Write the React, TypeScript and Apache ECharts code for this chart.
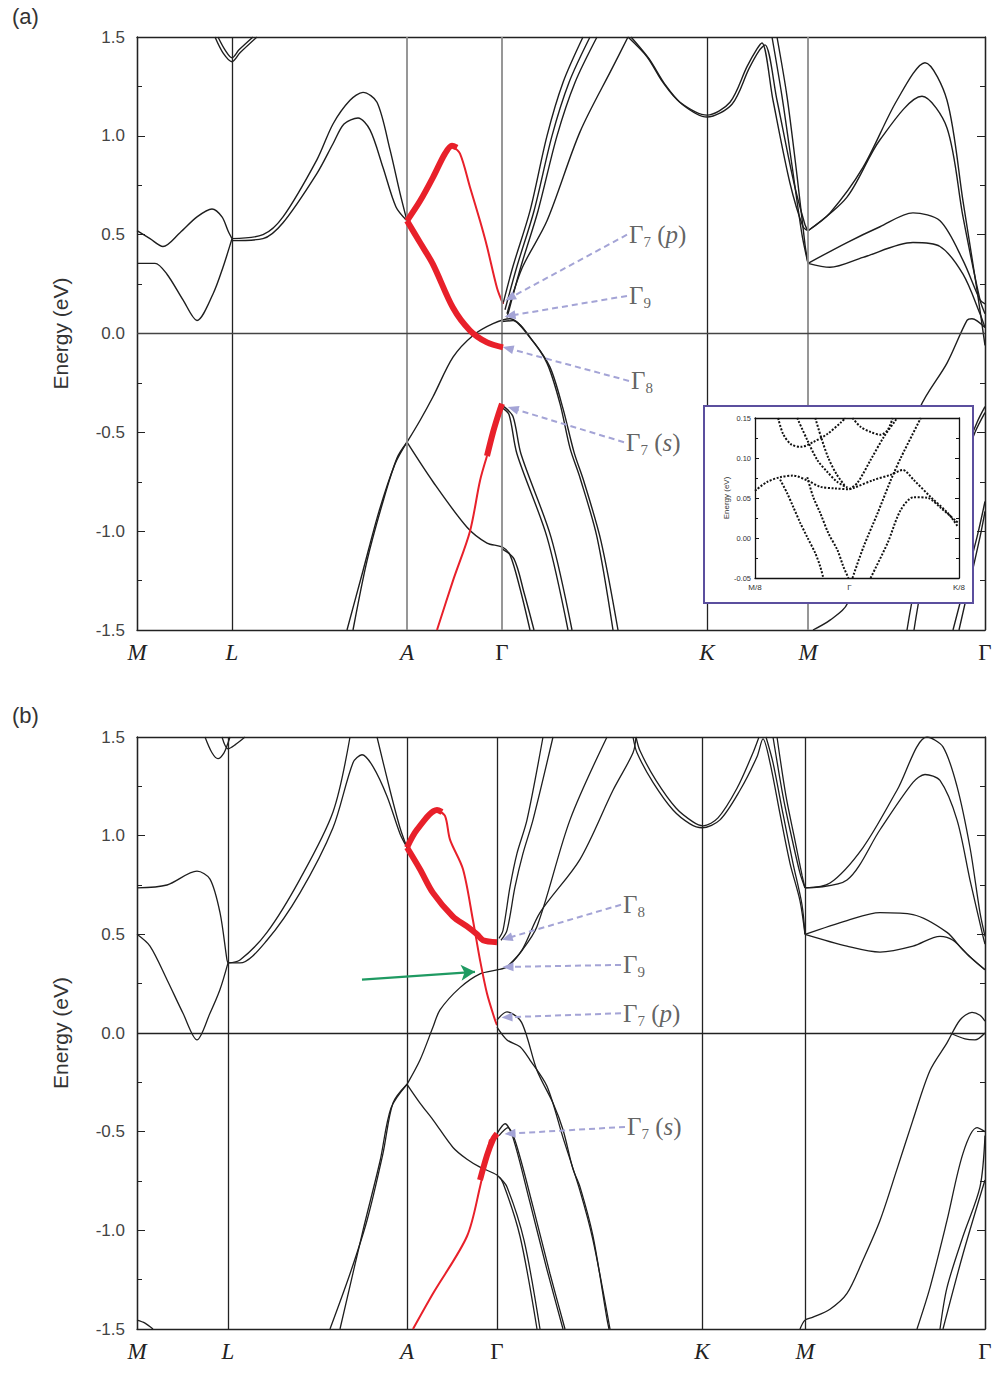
import { useEffect, useRef } from "react";
import * as echarts from "echarts";

type Pt = [number, number];

// ---------- k-path ----------
const kLabels = ["M", "L", "A", "Γ", "K", "M", "Γ"];
const kPointsA = [0, 95, 270, 365, 570, 671, 848];
const kPointsB = [0, 91, 270, 360, 565, 668, 848];
const kLineGrayA = [false, false, true, true, false, true, false];

// ---------- panel (a) bands ----------
const bandsA: Pt[][] = [
  // M - L
  [[0, 0.52], [13, 0.48], [26, 0.44], [43, 0.51], [60, 0.59], [75, 0.63], [85, 0.59], [91, 0.52], [95, 0.48]],
  [[0, 0.355], [18, 0.355], [30, 0.3], [46, 0.17], [60, 0.066], [76, 0.2], [86, 0.335], [95, 0.48]],
  [[78, 1.5], [86, 1.42], [95, 1.375], [103, 1.42], [120, 1.5]],
  [[81, 1.5], [88, 1.435], [95, 1.395], [102, 1.435], [116, 1.5]],
  // L - A
  [[95, 0.48], [126, 0.5], [146, 0.59], [180, 0.88], [196, 1.06], [213, 1.18], [226, 1.22], [240, 1.17], [253, 0.93], [263, 0.71], [270, 0.57]],
  [[95, 0.47], [126, 0.48], [146, 0.56], [180, 0.81], [196, 0.96], [207, 1.06], [221, 1.09], [233, 1.03], [246, 0.84], [259, 0.64], [270, 0.57]],
  [[270, -0.55], [260, -0.63], [246, -0.85], [230, -1.15], [216, -1.5]],
  [[270, -0.55], [258, -0.66], [242, -0.9], [226, -1.2], [210, -1.5]],
  // A - Γ - K valence
  [[270, -0.55], [283, -0.44], [296, -0.32], [316, -0.12], [336, -0.01], [356, 0.05], [373, 0.075], [393, -0.02], [410, -0.15], [423, -0.355], [433, -0.58], [443, -0.73], [460, -1.03], [476, -1.5]],
  [[365, 0.06], [376, 0.065], [396, -0.04], [413, -0.17], [426, -0.38], [437, -0.6], [447, -0.75], [464, -1.05], [481, -1.5]],
  [[270, -0.55], [296, -0.75], [330, -0.98], [350, -1.06], [365, -1.08], [373, -1.12], [383, -1.29], [393, -1.5]],
  [[365, -1.09], [377, -1.14], [387, -1.31], [397, -1.5]],
  [[365, -0.375], [372, -0.41], [380, -0.61], [410, -1.03], [431, -1.5]],
  [[367, -0.37], [376, -0.42], [384, -0.61], [414, -1.03], [435, -1.5]],
  // Γ - K conduction
  [[366, 0.15], [376, 0.34], [393, 0.62], [410, 1.0], [426, 1.27], [446, 1.5]],
  [[368, 0.12], [380, 0.34], [397, 0.62], [415, 1.0], [432, 1.27], [453, 1.5]],
  [[370, 0.08], [384, 0.34], [401, 0.62], [420, 1.0], [438, 1.27], [460, 1.5]],
  [[370, 0.1], [385, 0.33], [410, 0.57], [443, 1.02], [476, 1.35], [491, 1.5]],
  // K
  [[491, 1.5], [510, 1.4], [526, 1.27], [543, 1.17], [570, 1.105], [593, 1.17], [610, 1.35], [620, 1.44], [625, 1.47], [636, 1.18], [653, 0.76], [666, 0.54], [671, 0.52]],
  [[494, 1.5], [512, 1.39], [528, 1.26], [545, 1.16], [570, 1.095], [595, 1.16], [612, 1.34], [622, 1.43], [628, 1.46], [640, 1.18], [657, 0.76], [668, 0.55], [671, 0.52]],
  [[635, 1.5], [645, 1.2], [655, 0.85], [665, 0.5], [671, 0.355]],
  [[640, 1.5], [650, 1.2], [660, 0.8], [668, 0.45], [671, 0.355]],
  // M - Γ
  [[671, 0.52], [693, 0.61], [726, 0.84], [760, 1.18], [788, 1.37], [810, 1.18], [826, 0.67], [840, 0.22], [848, -0.06]],
  [[671, 0.52], [710, 0.69], [743, 0.98], [785, 1.2], [810, 1.04], [826, 0.59], [843, 0.17], [848, 0.1]],
  [[671, 0.355], [710, 0.46], [743, 0.54], [776, 0.61], [803, 0.57], [826, 0.37], [843, 0.17], [848, 0.15]],
  [[671, 0.355], [693, 0.335], [726, 0.385], [776, 0.46], [803, 0.44], [826, 0.3], [843, 0.1], [848, 0.03]],
  [[676, -1.5], [693, -1.45], [710, -1.37], [783, -0.375], [810, -0.15], [830, 0.066], [835, 0.075], [848, 0.03]],
  [[848, -0.37], [840, -0.45], [786, -1.12], [770, -1.5]],
  [[848, -0.4], [838, -0.5], [792, -1.12], [777, -1.5]],
  [[848, -0.85], [840, -1.03], [816, -1.5]],
  [[848, -0.9], [843, -1.03], [822, -1.5]],
];
const redThickA: Pt[][] = [
  [[270, 0.57], [283, 0.67], [296, 0.79], [308, 0.91], [315, 0.95], [320, 0.94]],
  [[270, 0.57], [283, 0.46], [296, 0.35], [316, 0.13], [333, 0.015], [350, -0.045], [366, -0.07]],
  [[350, -0.62], [356, -0.5], [362, -0.4], [365, -0.355]],
];
const redThinA: Pt[][] = [
  [[315, 0.95], [323, 0.91], [333, 0.74], [343, 0.57], [350, 0.44], [360, 0.23], [366, 0.15]],
  [[300, -1.5], [316, -1.25], [333, -1.0], [343, -0.745], [350, -0.62]],
];

// ---------- panel (b) bands ----------
const bandsB: Pt[][] = [
  // M - L
  [[0, 0.735], [30, 0.75], [60, 0.82], [73, 0.78], [83, 0.61], [90, 0.37], [91, 0.355]],
  [[0, 0.5], [13, 0.44], [30, 0.27], [46, 0.1], [60, -0.035], [73, 0.1], [83, 0.22], [91, 0.355]],
  [[68, 1.5], [75, 1.42], [81, 1.39], [87, 1.42], [91, 1.47], [93, 1.5]],
  [[85, 1.5], [91, 1.44], [98, 1.46], [108, 1.5]],
  [[0, -1.455], [8, -1.47], [16, -1.5]],
  // L - A
  [[91, 0.355], [103, 0.37], [130, 0.51], [163, 0.78], [196, 1.12], [213, 1.5]],
  [[240, 1.5], [253, 1.23], [263, 1.04], [270, 0.94]],
  [[91, 0.355], [103, 0.355], [130, 0.47], [163, 0.71], [196, 1.04], [216, 1.37], [225, 1.41], [236, 1.35], [250, 1.2], [263, 1.01], [270, 0.94]],
  [[270, -0.26], [256, -0.355], [246, -0.61], [230, -0.95], [213, -1.22], [193, -1.5]],
  [[270, -0.26], [254, -0.38], [243, -0.65], [226, -1.0], [203, -1.5]],
  // A - Γ - K
  [[270, -0.26], [283, -0.137], [296, 0.03], [303, 0.117], [323, 0.23], [343, 0.3], [360, 0.32], [370, 0.335], [383, 0.405], [400, 0.54], [433, 1.08], [470, 1.5]],
  [[370, 0.335], [385, 0.42], [403, 0.61], [443, 0.88], [476, 1.23], [496, 1.42], [499, 1.5]],
  [[362, 0.48], [366, 0.52], [373, 0.74], [380, 0.91], [390, 1.08], [406, 1.5]],
  [[364, 0.47], [370, 0.52], [378, 0.74], [386, 0.91], [396, 1.08], [416, 1.5]],
  [[270, -0.26], [283, -0.355], [296, -0.44], [316, -0.58], [330, -0.64], [343, -0.68], [360, -0.72], [366, -0.76], [383, -1.03], [400, -1.5]],
  [[362, -0.73], [370, -0.78], [387, -1.05], [403, -1.5]],
  [[360, -0.51], [368, -0.46], [376, -0.53], [393, -0.86], [410, -1.2], [426, -1.5]],
  [[362, -0.52], [371, -0.48], [379, -0.56], [396, -0.88], [413, -1.22], [428, -1.5]],
  [[360, 0.066], [370, 0.107], [383, 0.066], [390, -0.02], [400, -0.19], [416, -0.355], [426, -0.49], [436, -0.69], [443, -0.78], [456, -1.03], [470, -1.45], [472, -1.5]],
  [[360, 0.03], [370, -0.035], [383, -0.07], [393, -0.137], [410, -0.27], [426, -0.53], [443, -0.8], [456, -1.05], [473, -1.5]],
  // K
  [[496, 1.5], [500, 1.42], [516, 1.27], [536, 1.13], [553, 1.06], [565, 1.04], [583, 1.08], [603, 1.23], [620, 1.4], [626, 1.49], [633, 1.37], [643, 1.11], [653, 0.86], [663, 0.67], [668, 0.5]],
  [[499, 1.5], [503, 1.43], [519, 1.28], [539, 1.14], [556, 1.07], [566, 1.05], [581, 1.09], [600, 1.24], [616, 1.42], [622, 1.5]],
  [[629, 1.5], [636, 1.37], [646, 1.11], [656, 0.86], [665, 0.65], [668, 0.5]],
  [[636, 1.5], [646, 1.2], [653, 1.03], [663, 0.81], [668, 0.735]],
  [[640, 1.5], [649, 1.2], [657, 1.0], [665, 0.8], [668, 0.735]],
  // M - Γ
  [[668, 0.735], [693, 0.76], [726, 0.94], [760, 1.23], [790, 1.5], [806, 1.45], [820, 1.25], [833, 0.94], [843, 0.61], [848, 0.49]],
  [[668, 0.735], [710, 0.775], [743, 1.03], [776, 1.27], [788, 1.31], [803, 1.28], [820, 1.08], [833, 0.775], [846, 0.49], [848, 0.45]],
  [[668, 0.5], [710, 0.57], [743, 0.61], [776, 0.6], [810, 0.51], [826, 0.42], [848, 0.32]],
  [[668, 0.5], [710, 0.44], [743, 0.41], [776, 0.44], [803, 0.49], [816, 0.47], [833, 0.385], [848, 0.32]],
  [[663, -1.5], [668, -1.455], [676, -1.44], [693, -1.4], [710, -1.32], [726, -1.15], [743, -0.95], [760, -0.69], [776, -0.44], [793, -0.19], [810, -0.05], [823, 0.066], [835, 0.105], [843, 0.09], [848, 0.06]],
  [[813, 0.0], [828, -0.03], [838, -0.035], [848, 0.0]],
  [[848, -0.5], [840, -0.48], [826, -0.61], [810, -0.95], [793, -1.29], [780, -1.5]],
  [[848, -0.52], [843, -0.78], [826, -1.03], [810, -1.29], [803, -1.5]],
  [[848, -0.745], [826, -1.12], [806, -1.5]],
];
const redThickB: Pt[][] = [
  [[270, 0.94], [280, 1.03], [300, 1.13], [305, 1.12]],
  [[270, 0.94], [283, 0.83], [296, 0.71], [316, 0.59], [330, 0.54], [340, 0.5], [346, 0.47], [360, 0.46]],
  [[343, -0.745], [350, -0.62], [356, -0.54], [360, -0.51]],
];
const redThinB: Pt[][] = [
  [[300, 1.13], [308, 1.1], [313, 0.98], [326, 0.83], [336, 0.57], [343, 0.37], [350, 0.2], [358, 0.066], [360, 0.04]],
  [[276, -1.5], [296, -1.32], [330, -1.03], [343, -0.78], [350, -0.61], [353, -0.54]],
];

// ---------- annotations ----------
const annoNamesA = ["Γ7 (p)", "Γ9", "Γ8", "Γ7 (s)"];
const annoFromA: Pt[] = [[490, 0.5], [490, 0.19], [492, -0.24], [487, -0.55]];
const annoToA: Pt[] = [[373, 0.18], [373, 0.09], [371, -0.075], [376, -0.38]];
const annoNamesB = ["Γ8", "Γ9", "Γ7 (p)", "Γ7 (s)"];
const annoFromB: Pt[] = [[484, 0.65], [484, 0.345], [484, 0.1], [488, -0.476]];
const annoToB: Pt[] = [[370, 0.48], [371, 0.335], [370, 0.08], [373, -0.51]];
const greenArrowB: Pt[] = [[225, 0.27], [338, 0.31]];

// ---------- inset (zoom near Γ, eV) ----------
const insetKPoints = [-94, 0, 109];
const insetKLabels = ["M/8", "Γ", "K/8"];
const insetBands: Pt[][] = [
  [[-94, 0.059], [-82, 0.07], [-69, 0.076], [-56, 0.078], [-42, 0.072], [-29, 0.064], [-15, 0.062], [0, 0.061], [4, 0.0625], [24, 0.0725], [41, 0.079], [53, 0.085], [64, 0.0725], [81, 0.051], [98, 0.031], [108, 0.014]],
  [[21, -0.05], [38, -0.006], [51, 0.035], [64, 0.051], [78, 0.05], [91, 0.0375], [108, 0.019]],
  [[3, -0.05], [14, -0.011], [28, 0.031], [41, 0.072], [51, 0.1], [71, 0.15]],
  [[0, 0.061], [8, 0.069], [21, 0.0975], [34, 0.126], [46, 0.1475], [47, 0.15]],
  [[3, 0.15], [11, 0.139], [21, 0.1325], [31, 0.129], [38, 0.135], [43, 0.15]],
  [[-71, 0.15], [-66, 0.13], [-58, 0.117], [-48, 0.114], [-36, 0.12], [-22, 0.13], [-8, 0.145], [-4, 0.15]],
  [[-52, 0.15], [-42, 0.1225], [-32, 0.0975], [-22, 0.0825], [-12, 0.07], [-2, 0.063]],
  [[-34, 0.15], [-28, 0.125], [-21, 0.1], [-13, 0.08], [-5, 0.066]],
  [[-69, 0.073], [-62, 0.056], [-56, 0.039], [-49, 0.019], [-42, 0.001], [-34, -0.019], [-29, -0.036], [-26, -0.05]],
  [[-42, 0.076], [-36, 0.051], [-29, 0.031], [-21, 0.006], [-12, -0.015], [-6, -0.036], [-1, -0.05]],
];

// ---------- styling ----------
const SANS = "'Liberation Sans', Arial, sans-serif";
const SERIF = "'Liberation Serif', 'DejaVu Serif', serif";
const AXIS_COLOR = "#222";
const RED = "#e8202a";

const gammaRich = {
  g: { fontFamily: SERIF, fontSize: 25, color: "#3a3a3a", lineHeight: 30 },
  i: { fontFamily: SERIF, fontStyle: "italic", fontSize: 25, color: "#3a3a3a", lineHeight: 30 },
  s: { fontFamily: SERIF, fontSize: 15, color: "#3a3a3a", lineHeight: 14, verticalAlign: "bottom" },
};
const fmtGamma = (name: string) => {
  const m = name.match(/^Γ(\d+)(?:\s*\((\w)\))?$/);
  if (!m) return name;
  let s = `{g|Γ}{s|${m[1]}}`;
  if (m[2]) s += `{g| (}{i|${m[2]}}{g|)}`;
  return s;
};

const kRich = {
  it: { fontFamily: SERIF, fontStyle: "italic", fontSize: 23, color: "#222" },
  up: { fontFamily: SERIF, fontSize: 23, color: "#222" },
};

function buildOption() {
  const grids = [
    { left: 137, top: 37, width: 848, height: 593 },
    { left: 137, top: 737, width: 848, height: 592 },
    { left: 755, top: 418, width: 204, height: 160 },
  ];
  const axisLine = { show: true, onZero: false, lineStyle: { color: AXIS_COLOR, width: 1.3 } };

  const mainX = (gi: number, kp: number[]) => [
    {
      type: "value", gridIndex: gi, min: 0, max: 848, position: "bottom",
      axisLine, axisTick: { show: false }, splitLine: { show: false },
      axisLabel: {
        customValues: kp, margin: 11,
        formatter: (v: number) => {
          let idx = kp.indexOf(v);
          if (idx < 0) idx = kp.reduce((b, k, i) => (Math.abs(k - v) < Math.abs(kp[b] - v) ? i : b), 0);
          const t = kLabels[idx];
          return t === "Γ" ? `{up|Γ}` : `{it|${t}}`;
        },
        rich: kRich,
      },
    },
    {
      type: "value", gridIndex: gi, min: 0, max: 848, position: "top",
      axisLine, axisTick: { show: false }, splitLine: { show: false }, axisLabel: { show: false },
    },
  ];
  const mainY = (gi: number) => [
    {
      type: "value", gridIndex: gi, min: -1.5, max: 1.5, interval: 0.5, position: "left",
      name: "Energy (eV)", nameLocation: "middle", nameGap: 66, nameRotate: 90,
      nameTextStyle: { fontFamily: SANS, fontSize: 21, color: "#333" },
      axisLine, splitLine: { show: false },
      axisTick: { show: true, inside: true, length: 8, lineStyle: { color: AXIS_COLOR } },
      minorTick: { show: true, splitNumber: 2, length: 5, lineStyle: { color: AXIS_COLOR } },
      axisLabel: { fontFamily: SANS, fontSize: 17, color: "#444", margin: 12, formatter: (v: number) => v.toFixed(1) },
    },
    {
      type: "value", gridIndex: gi, min: -1.5, max: 1.5, interval: 0.5, position: "right",
      axisLine, splitLine: { show: false },
      axisTick: { show: true, inside: true, length: 8, lineStyle: { color: AXIS_COLOR } },
      minorTick: { show: true, splitNumber: 2, length: 5, lineStyle: { color: AXIS_COLOR } },
      axisLabel: { show: false },
    },
  ];

  const insetAxisLine = { show: true, onZero: false, lineStyle: { color: "#111", width: 1.3 } };
  const insetX = [
    {
      type: "value", gridIndex: 2, min: -94, max: 109, position: "bottom", z: 60,
      axisLine: insetAxisLine, axisTick: { show: false }, splitLine: { show: false },
      axisLabel: {
        customValues: insetKPoints, margin: 5, fontFamily: SANS, fontSize: 8, color: "#333",
        formatter: (v: number) => {
          const idx = insetKPoints.indexOf(v);
          return idx >= 0 ? insetKLabels[idx] : "";
        },
      },
    },
    {
      type: "value", gridIndex: 2, min: -94, max: 109, position: "top", z: 60,
      axisLine: insetAxisLine, axisTick: { show: false }, splitLine: { show: false }, axisLabel: { show: false },
    },
  ];
  const insetY = [
    {
      type: "value", gridIndex: 2, min: -0.05, max: 0.15, interval: 0.05, position: "left", z: 60,
      name: "Energy (eV)", nameLocation: "middle", nameGap: 25, nameRotate: 90,
      nameTextStyle: { fontFamily: SANS, fontSize: 8, color: "#333" },
      axisLine: insetAxisLine, splitLine: { show: false },
      axisTick: { show: true, inside: true, length: 4, lineStyle: { color: "#111" } },
      minorTick: { show: true, splitNumber: 2, length: 3, lineStyle: { color: "#111" } },
      axisLabel: { fontFamily: SANS, fontSize: 7.5, color: "#333", margin: 4, formatter: (v: number) => v.toFixed(2) },
    },
    {
      type: "value", gridIndex: 2, min: -0.05, max: 0.15, interval: 0.05, position: "right", z: 60,
      axisLine: insetAxisLine, splitLine: { show: false },
      axisTick: { show: true, inside: true, length: 4, lineStyle: { color: "#111" } },
      minorTick: { show: true, splitNumber: 2, length: 3, lineStyle: { color: "#111" } },
      axisLabel: { show: false },
    },
  ];

  const lines = (bands: Pt[][], xi: number, yi: number, lineStyle: any, z: number) =>
    bands.map((b) => ({
      type: "line", xAxisIndex: xi, yAxisIndex: yi, data: b, symbol: "none", showSymbol: false,
      smooth: 0.3, lineStyle, z, silent: true, animation: false,
    }));

  const frameLines = (xi: number, yi: number, kp: number[], gray: boolean[]) => ({
    type: "line", xAxisIndex: xi, yAxisIndex: yi, data: [], symbol: "none", silent: true, z: 1,
    markLine: {
      silent: true, symbol: ["none", "none"], animation: false, label: { show: false },
      data: [
        ...kp.map((k, i) => ({
          xAxis: k,
          lineStyle: gray[i] ? { color: "#8c8c8c", width: 1.8, type: "solid" } : { color: AXIS_COLOR, width: 1.3, type: "solid" },
        })),
        { yAxis: 0, lineStyle: { color: gray.some((g) => g) ? "#444" : AXIS_COLOR, width: 1.3, type: "solid" } },
      ],
    },
  });

  const arrows = (xi: number, yi: number, from: Pt[], to: Pt[]) => ({
    type: "line", xAxisIndex: xi, yAxisIndex: yi, data: [], symbol: "none", silent: true, z: 7,
    markLine: {
      silent: true, animation: false, symbol: ["none", "triangle"], symbolSize: [9, 11],
      label: { show: false },
      lineStyle: { type: [6, 4], color: "#a4a4d6", width: 2 },
      data: from.map((f, i) => [{ coord: f }, { coord: to[i] }]),
    },
  });

  const labels = (xi: number, yi: number, names: string[], from: Pt[]) => ({
    type: "scatter", xAxisIndex: xi, yAxisIndex: yi, symbolSize: 0, silent: true, z: 8,
    data: from.map((f, i) => ({ value: f, name: names[i] })),
    label: {
      show: true, position: "right", distance: 2,
      formatter: (p: any) => fmtGamma(p.name),
      rich: gammaRich,
    },
  });

  const blackA = { color: "#1e1e1e", width: 1.4 };
  const blackB = { color: "#1e1e1e", width: 1.3 };
  const thick = { color: RED, width: 6 };
  const thin = { color: RED, width: 2 };

  const series: any[] = [
    frameLines(0, 0, kPointsA, kLineGrayA),
    frameLines(2, 2, kPointsB, kPointsB.map(() => false)),
    ...lines(bandsA, 0, 0, blackA, 3),
    ...lines(redThinA, 0, 0, thin, 4),
    ...lines(redThickA, 0, 0, thick, 5),
    ...lines(bandsB, 2, 2, blackB, 3),
    ...lines(redThinB, 2, 2, thin, 4),
    ...lines(redThickB, 2, 2, thick, 5),
    arrows(0, 0, annoFromA, annoToA),
    arrows(2, 2, annoFromB, annoToB),
    labels(0, 0, annoNamesA, annoFromA),
    labels(2, 2, annoNamesB, annoFromB),
    {
      type: "line", xAxisIndex: 2, yAxisIndex: 2, data: [], symbol: "none", silent: true, z: 7,
      markLine: {
        silent: true, animation: false, symbol: ["none", "arrow"], symbolSize: [12, 14],
        label: { show: false }, lineStyle: { type: "solid", color: "#1f9a62", width: 2.2 },
        data: [[{ coord: greenArrowB[0] }, { coord: greenArrowB[1] }]],
      },
    },
    // inset
    {
      type: "line", xAxisIndex: 4, yAxisIndex: 4, data: [], symbol: "none", silent: true, z: 60,
      markLine: {
        silent: true, animation: false, symbol: ["none", "none"], label: { show: false },
        data: [
          { xAxis: 0, lineStyle: { color: "#111", width: 1.3, type: "solid" } },
          { yAxis: 0, lineStyle: { color: "#111", width: 1.3, type: "solid" } },
        ],
      },
    },
    ...lines(insetBands, 4, 4, { color: "#111", width: 2, type: [2, 1.6] }, 61),
  ];

  return {
    animation: false,
    backgroundColor: "#ffffff",
    grid: grids.map((g) => ({ ...g, show: false })),
    xAxis: [...mainX(0, kPointsA), ...mainX(1, kPointsB), ...insetX],
    yAxis: [...mainY(0), ...mainY(1), ...insetY],
    graphic: [
      { type: "text", left: 12, top: 5, style: { text: "(a)", fontSize: 22, fontFamily: SANS, fill: "#333" } },
      { type: "text", left: 12, top: 704, style: { text: "(b)", fontSize: 22, fontFamily: SANS, fill: "#333" } },
      {
        type: "rect", z: 50, silent: true,
        shape: { x: 704, y: 406, width: 269, height: 197 },
        style: { fill: "#ffffff", stroke: "#5b4f9e", lineWidth: 2 },
      },
    ],
    series,
  };
}

export default function App() {
  const ref = useRef<HTMLDivElement>(null);
  useEffect(() => {
    if (!ref.current) return;
    const chart = echarts.init(ref.current, null, { renderer: "svg" });
    chart.setOption(buildOption() as any);
    return () => chart.dispose();
  }, []);
  return (
    <div
      ref={ref}
      style={{ position: "absolute", left: 0, top: 0, width: 997, height: 1377, background: "#fff" }}
    />
  );
}
